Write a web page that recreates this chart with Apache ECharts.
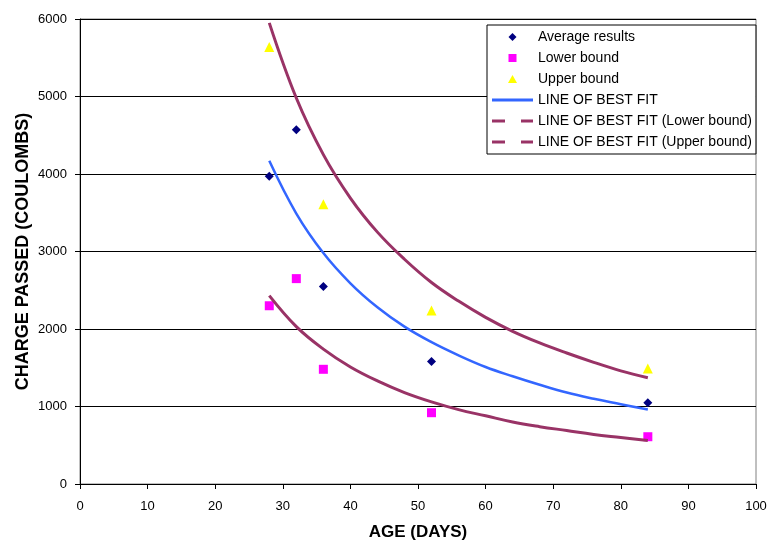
<!DOCTYPE html>
<html>
<head>
<meta charset="utf-8">
<script src="https://cdn.jsdelivr.net/npm/echarts@6/dist/echarts.min.js"></script>
<style>
  html, body { margin: 0; padding: 0; background: #fff; }
  #chart { width: 767px; height: 540px; }
</style>
</head>
<body>
<div id="chart"></div>
<script>
// measured points
const ages = [28, 32, 36, 52, 84]
const averageResults = [3970, 4570, 2550, 1580, 1050]
const lowerBound = [2300, 2650, 1480, 920, 610]
const upperAges = [28, 36, 52, 84]
const upperBound = [5640, 3610, 2240, 1490]

// best fit curves
const fitAges = [28, 32, 36, 40, 44, 48, 52, 56, 60, 64, 68, 72, 76, 80, 84]
const fitAverage = [4170, 3490, 2980, 2590, 2280, 2030, 1830, 1660, 1510, 1390, 1280, 1180, 1100, 1030, 960]
const fitLower = [2430, 2030, 1740, 1510, 1330, 1180, 1060, 960, 880, 800, 740, 690, 640, 600, 560]
const fitUpper = [5950, 4980, 4250, 3690, 3250, 2900, 2600, 2360, 2150, 1970, 1820, 1690, 1570, 1460, 1370]

const font = 'Liberation Sans, Arial, sans-serif'
const fitColor = '#993366'

// legend icons drawn in a 41x8 box (corner dots keep the box size)
const box = 'M0,0 L0.01,0 M41,8 L40.99,8 '
const diamondIcon = 'path://' + box + 'M20.5,0 L24.5,4 L20.5,8 L16.5,4 Z'
const squareIcon = 'path://' + box + 'M16.5,0 L24.5,0 L24.5,8 L16.5,8 Z'
const triangleIcon = 'path://' + box + 'M20.5,0 L25,8 L16,8 Z'
const solidIcon = 'path://' + box + 'M0,2.5 L41,2.5 L41,5.5 L0,5.5 Z'
const dashIcon = 'path://' + box + 'M0,2.5 L13,2.5 L13,5.5 L0,5.5 Z M29,2.5 L41,2.5 L41,5.5 L29,5.5 Z'

function pairs(xs, ys) {
  return xs.map((x, i) => [x, ys[i]])
}

const chart = echarts.init(document.getElementById('chart'))

chart.setOption({
  animation: false,
  backgroundColor: '#fff',
  textStyle: { fontFamily: font },
  grid: {
    left: 80,
    right: 11,
    top: 19,
    bottom: 56,
    outerBoundsMode: 'none',
    show: true,
    borderColor: '#808080',
    borderWidth: 1
  },
  legend: {
    orient: 'vertical',
    left: 487,
    top: 25,
    padding: [5, 4, 5, 5],
    itemWidth: 41,
    itemHeight: 8,
    itemGap: 7,
    backgroundColor: '#fff',
    borderColor: '#000',
    borderWidth: 1,
    textStyle: { fontFamily: font, fontSize: 14, color: '#000' },
    data: [
      { name: 'Average results', icon: diamondIcon },
      { name: 'Lower bound', icon: squareIcon },
      { name: 'Upper bound', icon: triangleIcon },
      { name: 'LINE OF BEST FIT', icon: solidIcon },
      { name: 'LINE OF BEST FIT (Lower bound)', icon: dashIcon },
      { name: 'LINE OF BEST FIT (Upper bound)', icon: dashIcon }
    ]
  },
  xAxis: {
    type: 'value',
    min: 0,
    max: 100,
    interval: 10,
    name: 'AGE (DAYS)',
    nameLocation: 'middle',
    nameGap: 40,
    nameMoveOverlap: false,
    nameTextStyle: { fontFamily: font, fontSize: 17, fontWeight: 'bold', color: '#000' },
    axisLine: { lineStyle: { color: '#000', width: 1 } },
    axisTick: { show: true, inside: false, length: 5, lineStyle: { color: '#000' } },
    axisLabel: { fontFamily: font, fontSize: 13, color: '#000', margin: 16 },
    splitLine: { show: false }
  },
  yAxis: {
    type: 'value',
    min: 0,
    max: 6000,
    interval: 1000,
    name: 'CHARGE PASSED (COULOMBS)',
    nameLocation: 'middle',
    nameGap: 48,
    nameMoveOverlap: false,
    nameTextStyle: { fontFamily: font, fontSize: 18, fontWeight: 'bold', color: '#000' },
    axisLine: { show: true, lineStyle: { color: '#000', width: 1 } },
    axisTick: { show: true, inside: false, length: 5, lineStyle: { color: '#000' } },
    axisLabel: { fontFamily: font, fontSize: 13, color: '#000', margin: 13, formatter: v => String(v) },
    splitLine: { show: true, lineStyle: { color: '#000', width: 1 } }
  },
  series: [
    {
      name: 'Average results',
      type: 'scatter',
      symbol: 'diamond',
      symbolSize: 9,
      itemStyle: { color: '#000080', opacity: 1 },
      data: pairs(ages, averageResults)
    },
    {
      name: 'Lower bound',
      type: 'scatter',
      symbol: 'rect',
      symbolSize: 9,
      itemStyle: { color: '#ff00ff', opacity: 1 },
      data: pairs(ages, lowerBound)
    },
    {
      name: 'Upper bound',
      type: 'scatter',
      symbol: 'triangle',
      symbolSize: 10,
      itemStyle: { color: '#ffff00', opacity: 1 },
      data: pairs(upperAges, upperBound)
    },
    {
      name: 'LINE OF BEST FIT',
      type: 'line',
      smooth: 0.4,
      symbol: 'none',
      itemStyle: { color: '#3366ff' },
      lineStyle: { color: '#3366ff', width: 2.5 },
      data: pairs(fitAges, fitAverage)
    },
    {
      name: 'LINE OF BEST FIT (Lower bound)',
      type: 'line',
      smooth: 0.4,
      symbol: 'none',
      itemStyle: { color: fitColor },
      lineStyle: { color: fitColor, width: 3 },
      data: pairs(fitAges, fitLower)
    },
    {
      name: 'LINE OF BEST FIT (Upper bound)',
      type: 'line',
      smooth: 0.4,
      symbol: 'none',
      itemStyle: { color: fitColor },
      lineStyle: { color: fitColor, width: 3 },
      data: pairs(fitAges, fitUpper)
    }
  ]
})
</script>
</body>
</html>
